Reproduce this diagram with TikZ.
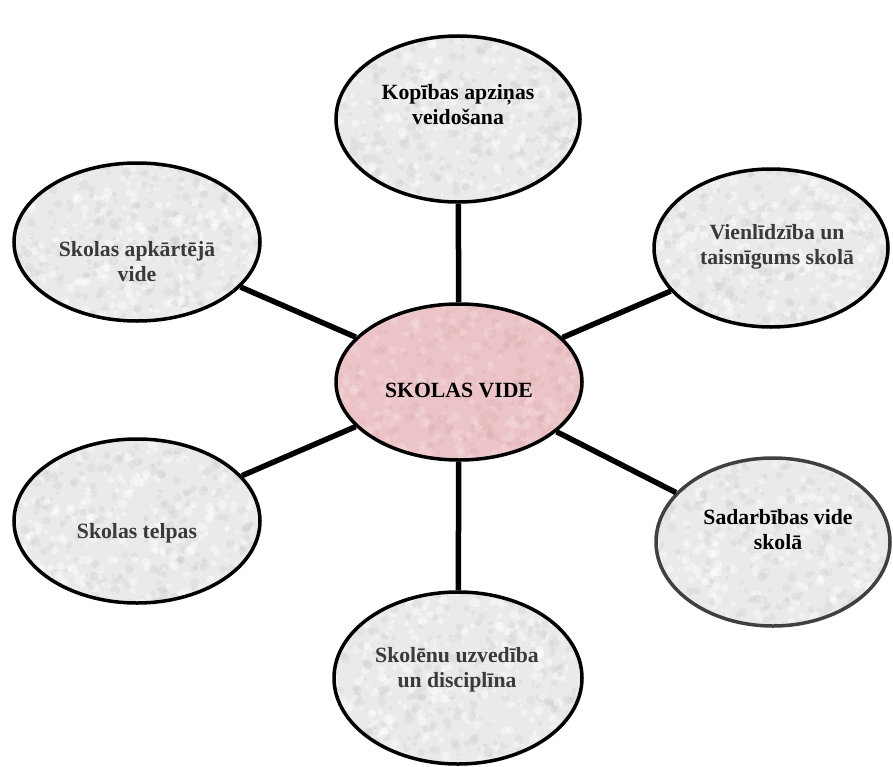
\documentclass[tikz,border=0pt]{standalone}
\usepackage{fontspec}
\setmainfont{Liberation Serif}
\usetikzlibrary{shapes.geometric}
\definecolor{bubblegray}{RGB}{234,234,234}
\definecolor{speckdark}{RGB}{200,200,200}
\definecolor{hubpink}{RGB}{236,196,199}
\definecolor{hubdark}{RGB}{218,170,174}
\definecolor{labelgray}{RGB}{58,58,58}
\definecolor{rimgray}{RGB}{64,64,64}
\begin{document}
\begin{tikzpicture}[x=1bp,y=-1bp,
  % mottled paper-like fill, clipped to the node outline
  speckle/.style 2 args={path picture={
    \foreach \k in {1,...,600}{
      \pgfmathsetmacro{\dx}{(rnd-0.5)*250}
      \pgfmathsetmacro{\dy}{(rnd-0.5)*180}
      \pgfmathsetmacro{\rr}{1.5+3.5*rnd}
      \pgfmathsetmacro{\tone}{rnd}
      \ifdim\tone pt<0.5pt
        \fill[#1, opacity=0.4] ([shift={(\dx,\dy)}]path picture bounding box.center) circle (\rr);
      \else
        \fill[#2, opacity=0.25] ([shift={(\dx,\dy)}]path picture bounding box.center) circle (\rr);
      \fi
    }}},
  bubble/.style={ellipse, draw=black, line width=3.5bp, fill=bubblegray, inner sep=0pt,
    speckle={white}{speckdark}},
  hub/.style={ellipse, draw=black, line width=3.5bp, fill=hubpink, inner sep=0pt,
    speckle={white!40!hubpink}{hubdark}},
  link/.style={line width=5.5bp, draw=black},
  lbl/.style={align=center, font=\fontsize{21.8}{25}\selectfont\bfseries, text=labelgray},
  darklbl/.style={lbl, text=black}]
\useasboundingbox (0,0) rectangle (893,767);
\pgfmathsetseed{4711}

% central hub and the six surrounding topics
\node[hub, minimum width=246bp, minimum height=156bp] (hubE) at (459,382) {};
\node[bubble, minimum width=244bp, minimum height=166bp] (topE) at (458,119) {};
\node[bubble, minimum width=248bp, minimum height=172bp] (botE) at (458,678) {};
\node[bubble, minimum width=246bp, minimum height=158bp] (ltE) at (137,242) {};
\node[bubble, minimum width=246bp, minimum height=164bp] (lbE) at (137,521) {};
\node[bubble, minimum width=234bp, minimum height=158bp] (rtE) at (771,248) {};
\node[bubble, draw=rimgray, minimum width=234bp, minimum height=168bp] (rbE) at (773,542) {};

% spokes
\draw[link] (hubE) -- (topE);
\draw[link] (hubE) -- (botE);
\draw[link] (hubE) -- (ltE);
\draw[link] (hubE) -- (lbE);
\draw[link] (hubE) -- (rtE);
\draw[link] (hubE) -- (rbE);

% labels
\node[darklbl, anchor=base] (hubT) at (459,397) {SKOLAS VIDE};
\node[darklbl] (topT) at (458,104.5) {Kopības apziņas\\veidošana};
\node[lbl] (botT) at (457,670) {Skolēnu uzvedība\\un disciplīna};
\node[lbl] (ltT) at (137,261.5) {Skolas apkārtējā\\vide};
\node[lbl, anchor=base] (lbT) at (137,538) {Skolas telpas};
\node[lbl] (rtT) at (777,246.5) {Vienlīdzība un\\taisnīgums skolā};
\node[darklbl] (rbT) at (778,529.5) {Sadarbības vide\\skolā};
\end{tikzpicture}
\end{document}
